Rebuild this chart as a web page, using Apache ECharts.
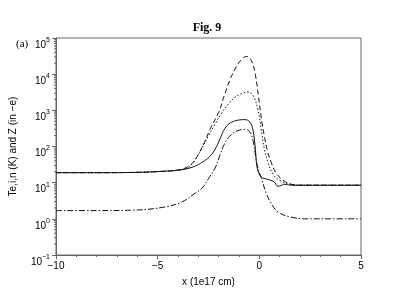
<!DOCTYPE html>
<html><head><meta charset="utf-8">
<script src="https://cdn.jsdelivr.net/npm/echarts@6/dist/echarts.min.js"></script>
<style>html,body{margin:0;padding:0;background:#fff}#c{width:414px;height:293px}</style>
</head><body><div id="c"></div>
<script>
// Data (x in 1e17 cm, y values)
const xA = [-10, -8, -6.2, -4.6, -4.0, -3.6, -3.3, -3.0, -2.7, -2.4, -2.0, -1.7, -1.4, -1.12, -0.87, -0.63, -0.39, -0.19, -0.05, 0.10, 0.24, 0.39, 0.58, 0.83, 1.17, 1.55, 2.04, 3, 5];
const yA = [18.9, 18.9, 19.2, 20.8, 22.5, 26, 34, 60, 130, 320, 880, 2800, 8000, 16400, 25500, 30900, 23900, 9240, 2600, 600, 204, 79, 36.8, 18.3, 11.7, 9.1, 8.5, 8.5, 8.5];
const xB = [-10, -8, -6.2, -4.6, -3.9, -3.5, -3.2, -2.85, -2.5, -2.17, -1.85, -1.52, -1.2, -0.87, -0.55, -0.31, -0.06, 0.10, 0.24, 0.42, 0.68, 1.07, 1.55, 2.04, 3, 5];
const yB = [18.9, 18.9, 19.2, 20.8, 22.8, 26, 40, 85, 200, 420, 850, 1500, 2300, 2900, 3200, 2600, 1000, 281, 90, 37, 17, 11, 9.1, 8.5, 8.5, 8.5];
const xC = [-10, -8, -6.2, -4.6, -3.8, -3.2, -2.8, -2.45, -2.17, -1.94, -1.75, -1.5, -1.2, -0.95, -0.71, -0.47, -0.31, -0.19, -0.10, 0.10, 0.39, 0.73, 0.91, 1.07, 1.21, 1.55, 2.5, 5];
const yC = [18.9, 18.9, 19.2, 20.8, 22.8, 28, 37, 52, 85, 160, 280, 420, 510, 545, 554, 476, 281, 79, 25, 14.2, 12.5, 10.5, 8.0, 8.3, 9.1, 8.5, 8.5, 8.5];
const xD = [-10, -8, -6.2, -4.6, -3.8, -3.16, -2.82, -2.49, -2.18, -1.94, -1.75, -1.46, -1.12, -0.73, -0.49, -0.31, -0.19, -0.10, 0.10, 0.34, 0.58, 0.91, 1.55, 2.36, 3.5, 5];
const yD = [1.69, 1.69, 1.74, 2.15, 2.95, 5.1, 7.05, 13.3, 25, 57, 108, 192, 264, 299, 264, 149, 57, 30, 13.3, 5.1, 2.72, 1.56, 1.12, 1.0, 1.0, 1.0];
const minorVals = [];
for (let e = -1; e < 5; e++) for (let k = 2; k <= 9; k++) minorVals.push(k * Math.pow(10, e));

const zip = (xs, ys) => xs.map((x, i) => [x, ys[i]]);
const chart = echarts.init(document.getElementById('c'));
const lineSeries = (d, type) => ({
  type: 'line', data: d, showSymbol: false, smooth: 0.4,
  lineStyle: { color: '#111', width: 1, type: type }, z: 3
});
const sans = 'Liberation Sans, Arial, sans-serif';
chart.setOption({
  animation: false,
  title: { text: 'Fig. 9', left: 'center', top: 17, textStyle: { fontFamily: 'Liberation Serif, serif', fontSize: 12, fontWeight: 'bold', color: '#000' } },
  graphic: [{ type: 'text', left: 16, top: 39, style: { text: '(a)', font: '11px Liberation Serif', fill: '#000' } }],
  grid: { left: 52, right: 53, top: 38, bottom: 38, show: true, borderColor: '#666', borderWidth: 1 },
  xAxis: {
    type: 'value', min: -10, max: 5, interval: 5,
    name: 'x (1e17 cm)', nameLocation: 'middle', nameGap: 22,
    nameTextStyle: { fontFamily: sans, fontSize: 10, color: '#000' },
    axisLine: { onZero: false, lineStyle: { color: '#666' } },
    axisTick: { length: 4, lineStyle: { color: '#666' } },
    minorTick: { show: true, splitNumber: 5, length: 2, lineStyle: { color: '#666' } },
    splitLine: { show: false },
    axisLabel: { margin: 6, fontFamily: sans, fontSize: 10, color: '#000', formatter: v => String(v).replace('-', '\u2212') }
  },
  yAxis: {
    type: 'log', logBase: 10, min: 0.1, max: 100000,
    name: 'Te,i,n (K) and Z (in \u2212e)', nameLocation: 'middle', nameGap: 38,
    nameTextStyle: { fontFamily: sans, fontSize: 10, color: '#000' },
    axisLine: { onZero: false, lineStyle: { color: '#666' } },
    axisTick: { length: 4, lineStyle: { color: '#666' } },
    splitLine: { show: false },
    axisLabel: {
      margin: 6, color: '#000',
      formatter: v => '{b|10}{s|' + String(Math.round(Math.log10(v))).replace('-', '\u2212') + '}',
      rich: {
        b: { fontFamily: sans, fontSize: 10, lineHeight: 12, padding: [5, 0, 0, 0], color: '#000' },
        s: { fontFamily: sans, fontSize: 7, lineHeight: 8, verticalAlign: 'top', color: '#000' }
      },
      padding: [9, 0, 0, 0]
    }
  },
  series: [
    lineSeries(zip(xA, yA), [5, 3]),
    lineSeries(zip(xB, yB), [1.5, 2]),
    lineSeries(zip(xC, yC), 'solid'),
    lineSeries(zip(xD, yD), [6, 2, 1.5, 2]),
    {
      type: 'custom', data: minorVals.map(v => [-10, v]), silent: true, z: 4, clip: false,
      encode: { x: 0, y: 1 },
      renderItem: (params, api) => {
        const p = api.coord([api.value(0), api.value(1)]);
        return { type: 'line', shape: { x1: p[0] - 2, y1: p[1], x2: p[0], y2: p[1] }, style: { stroke: '#666', lineWidth: 1 } };
      }
    }
  ]
});
</script></body></html>
